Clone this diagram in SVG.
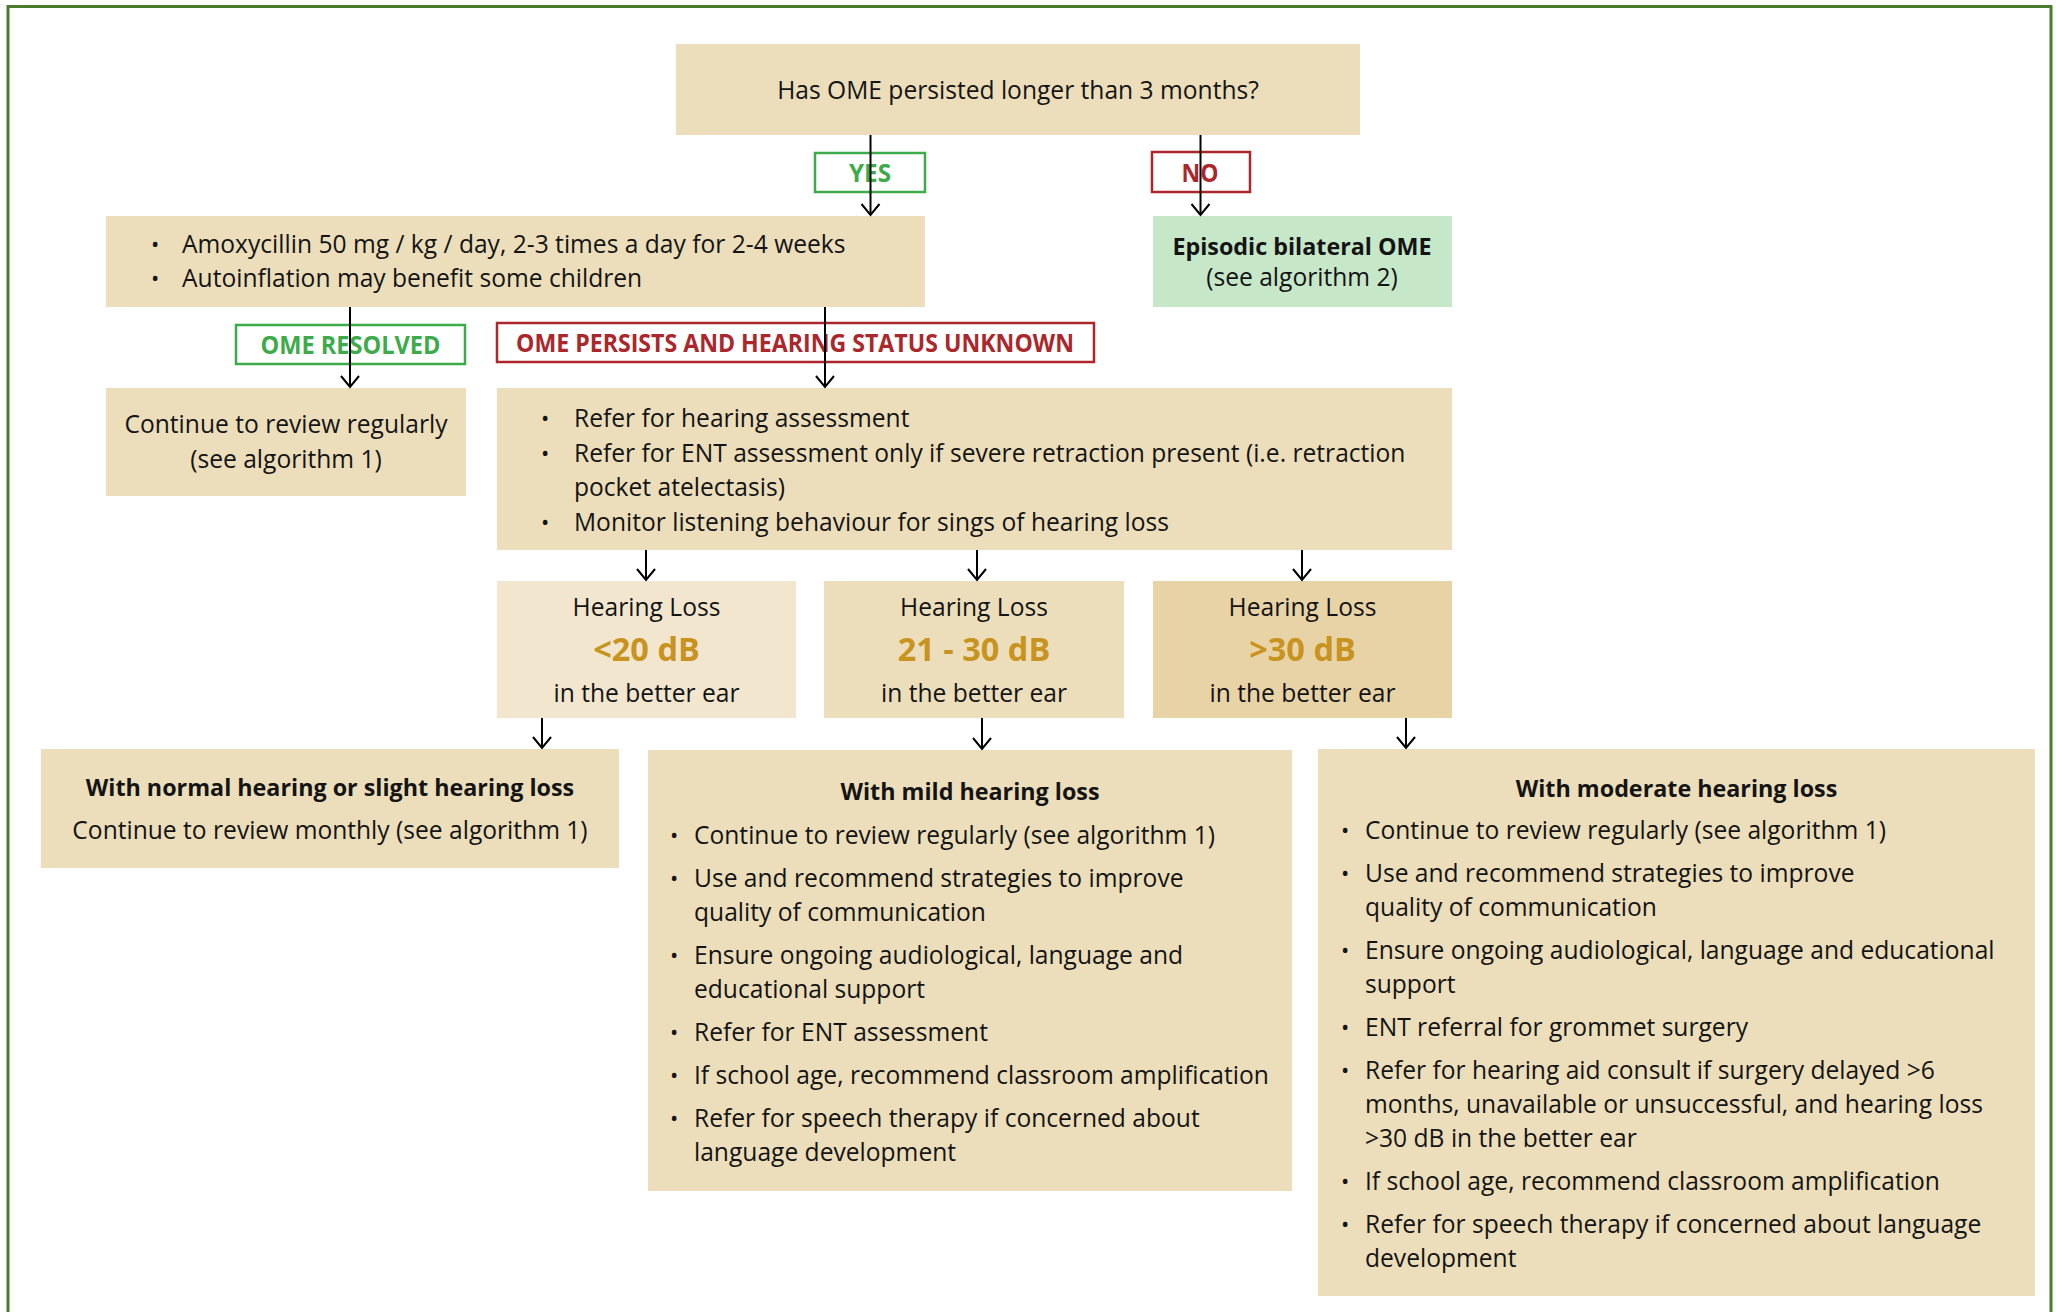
<svg xmlns="http://www.w3.org/2000/svg" width="2056" height="1312" viewBox="0 0 2056 1312">
  <style>
    .box { fill: #ecdeba; }
    .t { font-family: "Open Sans", "Liberation Sans", sans-serif; font-size: 24.6px; fill: #141414; }
    .c { text-anchor: middle; }
    .b { font-weight: bold; font-size: 23.3px; }
    .bul { font-family: "Open Sans", "Liberation Sans", sans-serif; font-size: 22px; fill: #141414; }
    .db { font-family: "Open Sans", "Liberation Sans", sans-serif; font-size: 32.5px; font-weight: bold; fill: #c8931f; text-anchor: middle; }
    .lab { font-family: "Open Sans", "Liberation Sans", sans-serif; font-size: 25px; font-weight: bold; text-anchor: middle; }
    .yes { fill: none; stroke: #3dab4a; stroke-width: 2.5; }
    .no { fill: none; stroke: #ab272b; stroke-width: 2.5; }
    .edge { fill: none; stroke: #000; stroke-width: 2; marker-end: url(#arrow); }
  </style>
  <defs>
    <marker id="arrow" markerUnits="userSpaceOnUse" viewBox="-13 -12 16 24" refX="0" refY="0" markerWidth="16" markerHeight="24" orient="auto" overflow="visible">
      <path d="M-11,-9 L0,0 L-11,9" fill="none" stroke="#000" stroke-width="2"/>
    </marker>
  </defs>

  <!-- page frame -->
  <rect x="0" y="0" width="2056" height="1312" fill="#fff"/>
  <rect x="8" y="6.5" width="2043" height="1330" fill="none" stroke="#4b7b2f" stroke-width="3"/>

  <!-- decision -->
  <g id="q-persisted">
    <rect class="box" x="676" y="44" width="684" height="91"/>
    <text class="t c" x="1018" y="99">Has OME persisted longer than 3 months?</text>
  </g>

  <g id="treatment">
    <rect class="box" x="106" y="216" width="819" height="91"/>
    <text class="bul" x="151" y="252">•</text>
    <text class="t" x="182" y="253">Amoxycillin 50 mg / kg / day, 2-3 times a day for 2-4 weeks</text>
    <text class="bul" x="151" y="286">•</text>
    <text class="t" x="182" y="287">Autoinflation may benefit some children</text>
  </g>

  <g id="episodic">
    <rect x="1153" y="216" width="299" height="91" fill="#c7e7c9"/>
    <text class="t c b" x="1302" y="255">Episodic bilateral OME</text>
    <text class="t c" x="1302" y="286">(see algorithm 2)</text>
  </g>

  <g id="resolved-review">
    <rect class="box" x="106" y="388" width="360" height="108"/>
    <text class="t c" x="286" y="433">Continue to review regularly</text>
    <text class="t c" x="286" y="468">(see algorithm 1)</text>
  </g>

  <g id="refer">
    <rect class="box" x="497" y="388" width="955" height="162"/>
    <text class="bul" x="541" y="426">•</text>
    <text class="t" x="574" y="427">Refer for hearing assessment</text>
    <text class="bul" x="541" y="461">•</text>
    <text class="t" x="574" y="462">Refer for ENT assessment only if severe retraction present (i.e. retraction</text>
    <text class="t" x="574" y="496">pocket atelectasis)</text>
    <text class="bul" x="541" y="530">•</text>
    <text class="t" x="574" y="531">Monitor listening behaviour for sings of hearing loss</text>
  </g>

  <g id="hl-20">
    <rect x="497" y="581" width="299" height="137" fill="#f2e6cf"/>
    <text class="t c" x="646.5" y="616">Hearing Loss</text>
    <text class="db" x="646.5" y="661">&lt;20 dB</text>
    <text class="t c" x="646.5" y="702">in the better ear</text>
  </g>

  <g id="hl-21-30">
    <rect class="box" x="824" y="581" width="300" height="137"/>
    <text class="t c" x="974" y="616">Hearing Loss</text>
    <text class="db" x="974" y="661">21 - 30 dB</text>
    <text class="t c" x="974" y="702">in the better ear</text>
  </g>

  <g id="hl-30">
    <rect x="1153" y="581" width="299" height="137" fill="#e8d3a6"/>
    <text class="t c" x="1302.5" y="616">Hearing Loss</text>
    <text class="db" x="1302.5" y="661">&gt;30 dB</text>
    <text class="t c" x="1302.5" y="702">in the better ear</text>
  </g>

  <g id="normal">
    <rect class="box" x="41" y="749" width="578" height="119"/>
    <text class="t c b" x="330" y="796">With normal hearing or slight hearing loss</text>
    <text class="t c" x="330" y="839">Continue to review monthly (see algorithm 1)</text>
  </g>

  <g id="mild">
    <rect class="box" x="648" y="750" width="644" height="441"/>
    <text class="t c b" x="970" y="800">With mild hearing loss</text>
    <text class="bul" x="670" y="843">•</text>
    <text class="t" x="694" y="844">Continue to review regularly (see algorithm 1)</text>
    <text class="bul" x="670" y="886">•</text>
    <text class="t" x="694" y="887">Use and recommend strategies to improve</text>
    <text class="t" x="694" y="921">quality of communication</text>
    <text class="bul" x="670" y="963">•</text>
    <text class="t" x="694" y="964">Ensure ongoing audiological, language and</text>
    <text class="t" x="694" y="998">educational support</text>
    <text class="bul" x="670" y="1040">•</text>
    <text class="t" x="694" y="1041">Refer for ENT assessment</text>
    <text class="bul" x="670" y="1083">•</text>
    <text class="t" x="694" y="1084">If school age, recommend classroom amplification</text>
    <text class="bul" x="670" y="1126">•</text>
    <text class="t" x="694" y="1127">Refer for speech therapy if concerned about</text>
    <text class="t" x="694" y="1161">language development</text>
  </g>

  <g id="moderate">
    <rect class="box" x="1318" y="749" width="717" height="547"/>
    <text class="t c b" x="1676.5" y="797">With moderate hearing loss</text>
    <text class="bul" x="1341" y="838">•</text>
    <text class="t" x="1365" y="839">Continue to review regularly (see algorithm 1)</text>
    <text class="bul" x="1341" y="881">•</text>
    <text class="t" x="1365" y="882">Use and recommend strategies to improve</text>
    <text class="t" x="1365" y="916">quality of communication</text>
    <text class="bul" x="1341" y="958">•</text>
    <text class="t" x="1365" y="959">Ensure ongoing audiological, language and educational</text>
    <text class="t" x="1365" y="993">support</text>
    <text class="bul" x="1341" y="1035">•</text>
    <text class="t" x="1365" y="1036">ENT referral for grommet surgery</text>
    <text class="bul" x="1341" y="1078">•</text>
    <text class="t" x="1365" y="1079">Refer for hearing aid consult if surgery delayed &gt;6</text>
    <text class="t" x="1365" y="1113">months, unavailable or unsuccessful, and hearing loss</text>
    <text class="t" x="1365" y="1147">&gt;30 dB in the better ear</text>
    <text class="bul" x="1341" y="1189">•</text>
    <text class="t" x="1365" y="1190">If school age, recommend classroom amplification</text>
    <text class="bul" x="1341" y="1232">•</text>
    <text class="t" x="1365" y="1233">Refer for speech therapy if concerned about language</text>
    <text class="t" x="1365" y="1267">development</text>
  </g>

  <!-- connectors with their branch labels; lines run over the labels -->
  <g id="connectors">
    <rect class="yes" x="815" y="153" width="110" height="39"/>
    <text class="lab" x="870" y="182" fill="#3dab4a" textLength="42" lengthAdjust="spacingAndGlyphs">YES</text>
    <rect class="no" x="1152" y="152" width="98" height="40"/>
    <text class="lab" x="1200" y="182" fill="#ab272b" textLength="37" lengthAdjust="spacingAndGlyphs">NO</text>
    <rect class="yes" x="236" y="325" width="229" height="39"/>
    <text class="lab" x="350.5" y="354" fill="#3dab4a" textLength="180" lengthAdjust="spacingAndGlyphs">OME RESOLVED</text>
    <rect class="no" x="497" y="323" width="597" height="39"/>
    <text class="lab" x="795" y="352" fill="#ab272b" textLength="558" lengthAdjust="spacingAndGlyphs">OME PERSISTS AND HEARING STATUS UNKNOWN</text>

    <line class="edge" x1="870.5" y1="135" x2="870.5" y2="215"/>
    <line class="edge" x1="1200.5" y1="135" x2="1200.5" y2="215"/>
    <line class="edge" x1="350" y1="307" x2="350" y2="387"/>
    <line class="edge" x1="825" y1="307" x2="825" y2="387"/>
    <line class="edge" x1="646" y1="550" x2="646" y2="580"/>
    <line class="edge" x1="977" y1="550" x2="977" y2="580"/>
    <line class="edge" x1="1302" y1="550" x2="1302" y2="580"/>
    <line class="edge" x1="542" y1="718" x2="542" y2="748"/>
    <line class="edge" x1="982" y1="718" x2="982" y2="749"/>
    <line class="edge" x1="1406" y1="718" x2="1406" y2="748"/>
  </g>
</svg>
